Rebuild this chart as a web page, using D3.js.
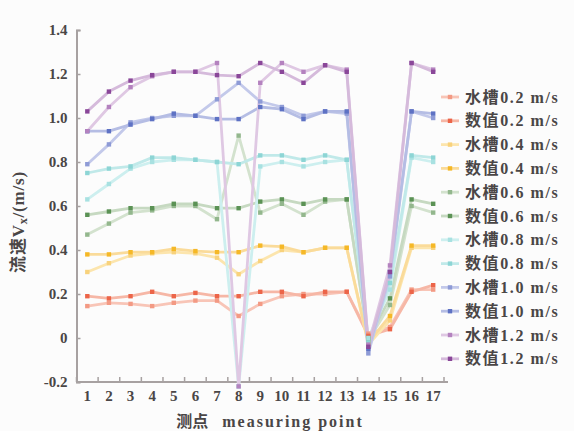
<!DOCTYPE html>
<html><head><meta charset="utf-8">
<script src="https://cdn.jsdelivr.net/npm/d3@7"></script>
<style>
html,body{margin:0;padding:0;background:#fcfcfc;}
svg{display:block;}
</style></head>
<body>
<svg id="chart" width="574" height="431"></svg>
<script>
// ---- data ----
const points = [1,2,3,4,5,6,7,8,9,10,11,12,13,14,15,16,17];
const yTicks = [-0.2,0,0.2,0.4,0.6,0.8,1.0,1.2,1.4];
const yTickLabels = ["-0.2","0","0.2","0.4","0.6","0.8","1.0","1.2","1.4"];
const seriesNames = ["水槽0.2 m/s","数值0.2 m/s","水槽0.4 m/s","数值0.4 m/s","水槽0.6 m/s","数值0.6 m/s","水槽0.8 m/s","数值0.8 m/s","水槽1.0 m/s","数值1.0 m/s","水槽1.2 m/s","数值1.2 m/s"];
const flume02 = [0.145,0.16,0.155,0.145,0.16,0.17,0.17,0.10,0.155,0.19,0.20,0.20,0.21,0.02,0.05,0.22,0.22];
const num02   = [0.19,0.18,0.19,0.21,0.19,0.205,0.19,0.19,0.21,0.21,0.19,0.21,0.21,0.01,0.04,0.21,0.24];
const flume04 = [0.30,0.34,0.375,0.385,0.39,0.385,0.365,0.29,0.35,0.40,0.39,0.41,0.41,-0.03,0.08,0.41,0.41];
const num04   = [0.38,0.38,0.39,0.39,0.405,0.395,0.39,0.39,0.42,0.415,0.39,0.41,0.41,-0.02,0.10,0.42,0.42];
const flume06 = [0.47,0.52,0.57,0.58,0.60,0.60,0.54,0.92,0.57,0.61,0.56,0.62,0.63,-0.01,0.15,0.60,0.57];
const num06   = [0.56,0.575,0.59,0.59,0.61,0.61,0.59,0.59,0.62,0.63,0.61,0.63,0.63,0.00,0.18,0.63,0.61];
const flume08 = [0.63,0.70,0.77,0.80,0.81,0.81,0.80,-0.22,0.78,0.80,0.78,0.80,0.81,0.00,0.22,0.82,0.80];
const num08   = [0.75,0.77,0.78,0.82,0.82,0.81,0.80,0.79,0.83,0.83,0.81,0.83,0.81,-0.02,0.25,0.83,0.82];
const flume10 = [0.79,0.88,0.98,1.00,1.01,1.01,1.085,1.16,1.075,1.05,1.01,1.03,1.02,-0.07,0.28,1.03,1.00];
const num10   = [0.94,0.94,0.97,0.995,1.02,1.01,0.995,0.995,1.05,1.04,0.995,1.03,1.03,-0.05,0.30,1.03,1.02];
const flume12 = [0.94,1.05,1.14,1.19,1.21,1.21,1.25,-0.22,1.16,1.25,1.21,1.24,1.22,-0.03,0.33,1.25,1.22];
const num12   = [1.03,1.12,1.17,1.195,1.21,1.21,1.195,1.19,1.25,1.21,1.16,1.24,1.21,-0.04,0.30,1.25,1.21];
const seriesValues = [flume02,num02,flume04,num04,flume06,num06,flume08,num08,flume10,num10,flume12,num12];

// ---- styles ----
const lineColors = ["#f8c5b7","#f6b7a6","#fce5ad","#fadb9a","#d3e2ce","#c6d9c1","#cdefef","#c0e9e9","#c3c9ea","#b5bde4","#dfc8e3","#d5badb"];
const markColors = ["#f39a84","#ec6549","#f8d27c","#f5b827","#93b78d","#5b9255","#a8e1e1","#8dd5d5","#8e9bd6","#5e72c4","#b482bf","#8a4799"];

const svg = d3.select("#chart");
const x = d3.scaleBand().domain(points).range([76.5, 444]).padding(0);
const y = d3.scaleLinear().domain([-0.2, 1.4]).range([382, 30]);
const cx = d => x(d) + x.bandwidth()/2;

const axisColor = "#a7a1a1";
const textColor = "#4a4646";
const labelFont = "'Liberation Serif','DejaVu Serif',serif";
const mixFont = "'Liberation Serif','Noto Sans CJK SC',serif";

// x axis
const gx = svg.append("g").attr("transform","translate(0,382)")
  .call(d3.axisBottom(x).tickSize(0).tickPadding(8));
gx.select(".domain").remove();
gx.selectAll("text").attr("font-family",labelFont).attr("font-weight","bold")
  .attr("font-size",15).attr("fill",textColor);
const bounds = points.map(p => x(p)).concat([x(17)+x.bandwidth()]);
svg.append("g").selectAll("line").data(bounds).join("line")
  .attr("x1",d=>d).attr("x2",d=>d).attr("y1",382).attr("y2",377)
  .attr("stroke",axisColor).attr("stroke-width",1.5);
svg.append("line").attr("x1",76.5).attr("x2",448).attr("y1",382).attr("y2",382)
  .attr("stroke",axisColor).attr("stroke-width",2);

// y axis
const gy = svg.append("g").attr("transform","translate(76.5,0)")
  .call(d3.axisLeft(y).tickValues(yTicks).tickSize(-4).tickPadding(9)
    .tickFormat((d,i) => yTickLabels[i]));
gy.select(".domain").attr("stroke",axisColor).attr("stroke-width",2);
gy.selectAll(".tick line").attr("stroke",axisColor).attr("stroke-width",1.5);
gy.selectAll("text").attr("font-family",labelFont).attr("font-weight","bold")
  .attr("font-size",15).attr("fill",textColor);

// series
const line = d3.line().x((d,i)=>cx(points[i])).y(d=>y(d));
seriesValues.forEach((vals,k)=>{
  svg.append("path").datum(vals).attr("d",line)
    .attr("fill","none").attr("stroke",lineColors[k]).attr("stroke-width",2.8)
    .attr("stroke-linejoin","round");
});
seriesValues.forEach((vals,k)=>{
  svg.append("g").selectAll("rect").data(vals).join("rect")
    .attr("x",(d,i)=>cx(points[i])-2.2).attr("y",d=>y(d)-2.2)
    .attr("width",4.4).attr("height",4.4).attr("fill",markColors[k]);
});

// legend
const lg = svg.append("g");
seriesNames.forEach((name,k)=>{
  const ly = 97 + k*23.8;
  lg.append("line").attr("x1",441).attr("x2",459).attr("y1",ly).attr("y2",ly)
    .attr("stroke",lineColors[k]).attr("stroke-width",2.8);
  lg.append("rect").attr("x",447.8).attr("y",ly-2.2).attr("width",4.4).attr("height",4.4)
    .attr("fill",markColors[k]);
  lg.append("text").attr("x",465).attr("y",ly+5.5).text(name)
    .attr("font-family",mixFont).attr("font-weight","bold")
    .attr("font-size",16).attr("letter-spacing",1.6).attr("fill",textColor);
});

// axis titles
const yt = svg.append("text").attr("transform","translate(24,222) rotate(-90)")
  .attr("text-anchor","middle").attr("font-family",mixFont)
  .attr("font-weight","bold").attr("font-size",17).attr("letter-spacing",0.8).attr("fill",textColor);
yt.append("tspan").text("流速V");
yt.append("tspan").text("x").attr("font-size",12).attr("dy",3);
yt.append("tspan").text("/(m/s)").attr("dy",-3);

const xt = svg.append("text").attr("x",270).attr("y",427).attr("text-anchor","middle")
  .attr("font-family",mixFont)
  .attr("font-weight","bold").attr("font-size",16).attr("fill",textColor);
xt.append("tspan").text("测点");
xt.append("tspan").text("measuring point").attr("dx",14).attr("letter-spacing",2);
</script>
</body></html>
